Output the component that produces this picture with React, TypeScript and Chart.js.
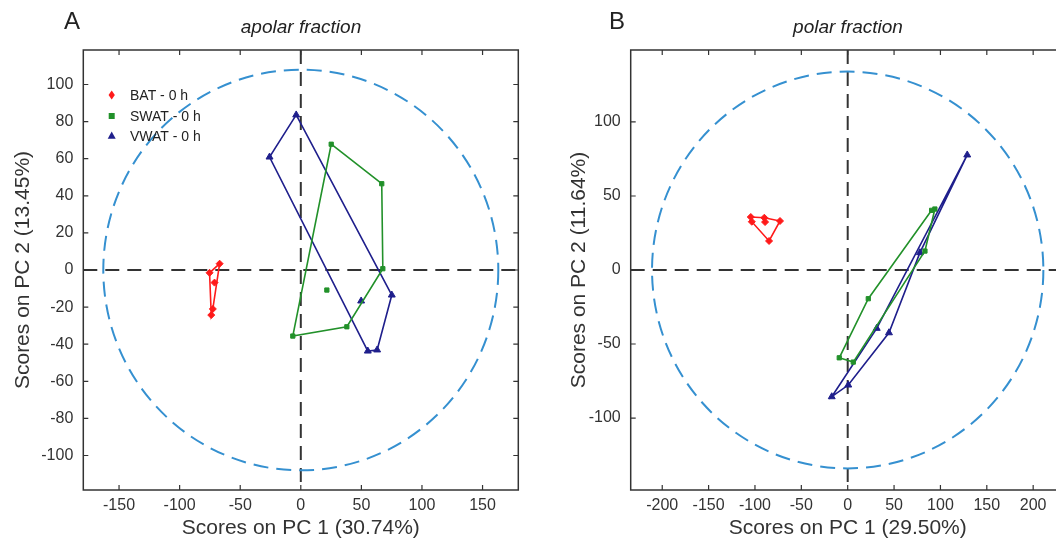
import React, { useEffect, useRef } from "react";
import { Chart, registerables } from "chart.js";
Chart.register(...registerables);

// ---------- Panel A (apolar fraction) ----------
const batA: number[][] = [[-67, 3.4], [-75.3, -1.5], [-71.2, -6.8], [-72.6, -21], [-73.9, -24.3]];
const batAHull = [0, 1, 4, 3];
const swatA: number[][] = [[25.1, 67.8], [66.8, 46.5], [67.7, 0.7], [38, -30.6], [-6.6, -35.6], [21.5, -10.8]];
const swatAHull = [0, 1, 2, 3, 4];
const vwatA: number[][] = [[-3.8, 83.6], [75.1, -13.5], [63, -43.1], [55.3, -43.7], [-25.8, 60.9], [49.8, -16.7]];
const vwatAHull = [0, 1, 2, 3, 4];
const ellipseA = [163, 108];
const xTicksA = [-150, -100, -50, 0, 50, 100, 150];
const yTicksA = [-100, -80, -60, -40, -20, 0, 20, 40, 60, 80, 100];
const rangeA = { x: [-179.5, 179.5], y: [-118.6, 118.6] };

// ---------- Panel B (polar fraction) ----------
const batB: number[][] = [[-104.5, 35.8], [-89.9, 35.3], [-73, 33.1], [-84.8, 19.6], [-103.4, 32.6], [-89.1, 32.4]];
const batBHull = [0, 1, 2, 3, 4];
const swatB: number[][] = [[90.5, 40.3], [94, 41.2], [83.3, 12.8], [6, -62.2], [-9.1, -59.3], [22.2, -19.4]];
const swatBHull = [0, 1, 2, 3, 4, 5];
const vwatB: number[][] = [[128.9, 77.7], [77.9, 11.7], [44.5, -42.4], [0.6, -77.7], [-17.2, -85.6], [31.3, -39.4]];
const vwatBHull = [0, 1, 2, 3, 4, 5];
const ellipseB = [211, 134];
const xTicksB = [-200, -150, -100, -50, 0, 50, 100, 150, 200];
const yTicksB = [-100, -50, 0, 50, 100];
const rangeB = { x: [-234, 234], y: [-148.6, 148.6] };

const legendLabels = ["BAT - 0 h", "SWAT - 0 h", "VWAT - 0 h"];

const RED = "#ff1a1a";
const GREEN = "#22912a";
const NAVY = "#1f1f8c";
const ELL = "#3590d0";
const INK = "#333333";
const FONT = "'Liberation Sans', Arial, Helvetica, sans-serif";

type Panel = {
  letter: string;
  title: string;
  xTitle: string;
  yTitle: string;
  groups: { pts: number[][]; hull: number[]; color: string; style: string; r: number }[];
  ellipse: number[];
  xTicks: number[];
  yTicks: number[];
  range: { x: number[]; y: number[] };
  width: number;
  yAxisWidth: number;
  padRight: number;
  yTitlePad: number;
  legend: boolean;
  letterX: number;
  titleX: number;
};

const panels: Panel[] = [
  {
    letter: "A",
    title: "apolar fraction",
    xTitle: "Scores on PC 1 (30.74%)",
    yTitle: "Scores on PC 2 (13.45%)",
    groups: [
      { pts: batA, hull: batAHull, color: RED, style: "rectRot", r: 3.5 },
      { pts: swatA, hull: swatAHull, color: GREEN, style: "rect", r: 3 },
      { pts: vwatA, hull: vwatAHull, color: NAVY, style: "triangle", r: 4 },
    ],
    ellipse: ellipseA,
    xTicks: xTicksA,
    yTicks: yTicksA,
    range: rangeA,
    width: 528,
    yAxisWidth: 83.3,
    padRight: 9.7,
    yTitlePad: 11,
    legend: true,
    letterX: 72,
    titleX: 301,
  },
  {
    letter: "B",
    title: "polar fraction",
    xTitle: "Scores on PC 1 (29.50%)",
    yTitle: "Scores on PC 2 (11.64%)",
    groups: [
      { pts: batB, hull: batBHull, color: RED, style: "rectRot", r: 3.5 },
      { pts: swatB, hull: swatBHull, color: GREEN, style: "rect", r: 3 },
      { pts: vwatB, hull: vwatBHull, color: NAVY, style: "triangle", r: 4 },
    ],
    ellipse: ellipseB,
    xTicks: xTicksB,
    yTicks: yTicksB,
    range: rangeB,
    width: 540,
    yAxisWidth: 90.7,
    padRight: 15.3,
    yTitlePad: 27,
    legend: false,
    letterX: 617 - 540,
    titleX: 848 - 540,
  },
];

function drawMarker(ctx: CanvasRenderingContext2D, style: string, x: number, y: number, r: number, color: string) {
  ctx.save();
  ctx.fillStyle = color;
  ctx.beginPath();
  if (style === "rectRot") {
    ctx.moveTo(x, y - r * 1.3);
    ctx.lineTo(x + r * 0.9, y);
    ctx.lineTo(x, y + r * 1.3);
    ctx.lineTo(x - r * 0.9, y);
  } else if (style === "rect") {
    ctx.rect(x - r, y - r, 2 * r, 2 * r);
  } else {
    ctx.moveTo(x, y - r * 1.1);
    ctx.lineTo(x + r, y + r * 0.7);
    ctx.lineTo(x - r, y + r * 0.7);
  }
  ctx.closePath();
  ctx.fill();
  ctx.restore();
}

function makeConfig(p: Panel): any {
  const datasets: any[] = [];
  p.groups.forEach((g) => {
    const hullPts = [...g.hull, g.hull[0]].map((i) => ({ x: g.pts[i][0], y: g.pts[i][1] }));
    datasets.push({
      data: hullPts,
      showLine: true,
      borderColor: g.color,
      borderWidth: 1.6,
      pointRadius: 0,
      fill: false,
      tension: 0,
    });
    datasets.push({
      data: g.pts.map((q) => ({ x: q[0], y: q[1] })),
      showLine: false,
      pointStyle: g.style,
      pointRadius: g.r,
      backgroundColor: g.color,
      borderColor: g.color,
      borderWidth: 1,
    });
  });

  const plugin = {
    id: "deco" + p.letter,
    beforeDatasetsDraw(chart: any) {
      const ctx: CanvasRenderingContext2D = chart.ctx;
      const xs = chart.scales.x;
      const ys = chart.scales.y;
      const ca = chart.chartArea;
      ctx.save();
      ctx.beginPath();
      ctx.rect(ca.left, ca.top, ca.right - ca.left, ca.bottom - ca.top);
      ctx.clip();
      // zero lines
      ctx.strokeStyle = INK;
      ctx.lineWidth = 2;
      ctx.setLineDash([14, 8]);
      const x0 = xs.getPixelForValue(0);
      const y0 = ys.getPixelForValue(0);
      ctx.beginPath();
      ctx.moveTo(x0, ca.top);
      ctx.lineTo(x0, ca.bottom);
      ctx.stroke();
      ctx.beginPath();
      ctx.moveTo(ca.left, y0);
      ctx.lineTo(ca.right, y0);
      ctx.stroke();
      // confidence ellipse
      const rx = Math.abs(xs.getPixelForValue(p.ellipse[0]) - x0);
      const ry = Math.abs(ys.getPixelForValue(p.ellipse[1]) - y0);
      ctx.strokeStyle = ELL;
      ctx.lineWidth = 2;
      ctx.setLineDash([15, 8]);
      ctx.beginPath();
      ctx.ellipse(x0, y0, rx, ry, 0, 0, Math.PI * 2);
      ctx.stroke();
      ctx.restore();
    },
    afterDraw(chart: any) {
      const ctx: CanvasRenderingContext2D = chart.ctx;
      const xs = chart.scales.x;
      const ys = chart.scales.y;
      const ca = chart.chartArea;
      ctx.save();
      ctx.strokeStyle = INK;
      ctx.lineWidth = 1.5;
      ctx.setLineDash([]);
      ctx.strokeRect(ca.left, ca.top, ca.right - ca.left, ca.bottom - ca.top);
      ctx.lineWidth = 1.2;
      const tl = 5;
      p.xTicks.forEach((v) => {
        const px = xs.getPixelForValue(v);
        ctx.beginPath();
        ctx.moveTo(px, ca.bottom);
        ctx.lineTo(px, ca.bottom - tl);
        ctx.moveTo(px, ca.top);
        ctx.lineTo(px, ca.top + tl);
        ctx.stroke();
      });
      p.yTicks.forEach((v) => {
        const py = ys.getPixelForValue(v);
        ctx.beginPath();
        ctx.moveTo(ca.left, py);
        ctx.lineTo(ca.left + tl, py);
        ctx.moveTo(ca.right, py);
        ctx.lineTo(ca.right - tl, py);
        ctx.stroke();
      });
      // panel letter and title
      ctx.fillStyle = "#222";
      ctx.textAlign = "center";
      ctx.textBaseline = "middle";
      ctx.font = `24px ${FONT}`;
      ctx.fillText(p.letter, p.letterX, 22);
      ctx.font = `italic 19px ${FONT}`;
      ctx.fillText(p.title, p.titleX, 28);
      // legend
      if (p.legend) {
        const rows = [95, 116, 136];
        ctx.font = `14px ${FONT}`;
        ctx.textAlign = "left";
        p.groups.forEach((g, i) => {
          drawMarker(ctx, g.style, 111.7, rows[i], g.r, g.color);
          ctx.fillStyle = "#222";
          ctx.fillText(legendLabels[i], 130, rows[i] + 1);
        });
      }
      ctx.restore();
    },
  };

  return {
    type: "scatter",
    data: { datasets },
    plugins: [plugin],
    options: {
      animation: false,
      responsive: false,
      devicePixelRatio: 1,
      layout: { padding: { left: 0, right: p.padRight, top: 50, bottom: 0 } },
      plugins: { legend: { display: false }, tooltip: { enabled: false }, title: { display: false } },
      scales: {
        x: {
          type: "linear",
          min: p.range.x[0],
          max: p.range.x[1],
          afterBuildTicks: (s: any) => {
            s.ticks = p.xTicks.map((v) => ({ value: v }));
          },
          afterFit: (s: any) => {
            s.height = 51;
          },
          grid: { display: false, drawTicks: false },
          border: { display: false },
          ticks: {
            autoSkip: false,
            maxRotation: 0,
            padding: 6,
            color: INK,
            font: { family: FONT, size: 16 },
          },
          title: {
            display: true,
            text: p.xTitle,
            color: INK,
            font: { family: FONT, size: 21 },
            padding: { top: 0, bottom: 0 },
          },
        },
        y: {
          type: "linear",
          min: p.range.y[0],
          max: p.range.y[1],
          afterBuildTicks: (s: any) => {
            s.ticks = p.yTicks.map((v) => ({ value: v }));
          },
          afterFit: (s: any) => {
            s.width = p.yAxisWidth;
          },
          grid: { display: false, drawTicks: false },
          border: { display: false },
          ticks: {
            autoSkip: false,
            padding: 10,
            color: INK,
            font: { family: FONT, size: 16 },
          },
          title: {
            display: true,
            text: p.yTitle,
            color: INK,
            font: { family: FONT, size: 21 },
            padding: { top: p.yTitlePad, bottom: 0 },
          },
        },
      },
    },
  };
}

function PanelChart({ p, left }: { p: Panel; left: number }) {
  const ref = useRef<HTMLCanvasElement>(null);
  useEffect(() => {
    if (!ref.current) return;
    const chart = new Chart(ref.current, makeConfig(p));
    return () => chart.destroy();
  }, [p]);
  return (
    <canvas
      ref={ref}
      width={p.width}
      height={541}
      style={{ position: "absolute", left, top: 0, width: p.width, height: 541 }}
    />
  );
}

export default function App() {
  return (
    <div
      style={{
        position: "fixed",
        left: 0,
        top: 0,
        width: 1056,
        height: 541,
        overflow: "hidden",
        background: "#ffffff",
      }}
    >
      <PanelChart p={panels[0]} left={0} />
      <PanelChart p={panels[1]} left={540} />
    </div>
  );
}
